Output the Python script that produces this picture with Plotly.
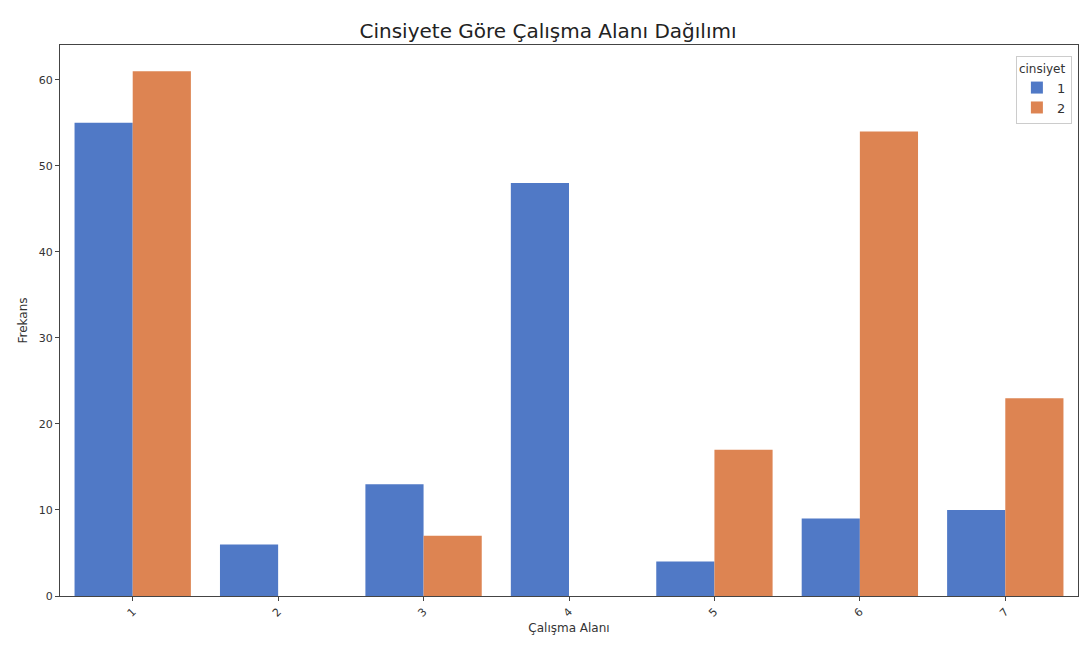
import plotly.graph_objects as go

categories = ["1", "2", "3", "4", "5", "6", "7"]
series_names = ["1", "2"]
values_1 = [55, 6, 13, 48, 4, 9, 10]
values_2 = [61, 0, 7, 0, 17, 54, 23]
y_ticks = [0, 10, 20, 30, 40, 50, 60]

colors = ["#5079c6", "#dd8452"]

fig = go.Figure()
for name, vals, col in zip(series_names, [values_1, values_2], colors):
    fig.add_trace(go.Bar(x=categories, y=vals, name=name, marker=dict(color=col, line=dict(width=0))))

font_family = "DejaVu Sans"
fig.update_layout(
    width=1080, height=654,
    margin=dict(l=52, r=10, t=37, b=66),
    paper_bgcolor="white", plot_bgcolor="white",
    barmode="group", bargap=0.2, bargroupgap=0,
    font=dict(family=font_family, size=11, color="#333333"),
    title=dict(text="Cinsiyete Göre Çalışma Alanı Dağılımı", x=0.5, xanchor="center",
               y=0.965, yanchor="middle", font=dict(size=20, color="#222222")),
    legend=dict(title=dict(text="cinsiyet", side="top", font=dict(size=12)),
                x=0.994, y=0.98, xanchor="right", yanchor="top",
                bordercolor="#cccccc", borderwidth=1, bgcolor="rgba(255,255,255,0.8)",
                font=dict(size=13)),
    xaxis=dict(title=dict(text="Çalışma Alanı", font=dict(size=12), standoff=4),
               type="category", range=[-0.5, 6.5], tickangle=-45,
               showline=True, linecolor="#444444", linewidth=1, mirror=True,
               ticks="outside", ticklen=4, tickcolor="#444444", showgrid=False),
    yaxis=dict(title=dict(text="Frekans", font=dict(size=12), standoff=8),
               range=[0, 64.05], tickvals=y_ticks,
               showline=True, linecolor="#444444", linewidth=1, mirror=True,
               ticks="outside", ticklen=4, tickcolor="#444444", showgrid=False, zeroline=False),
)
fig.write_html("out.html")
